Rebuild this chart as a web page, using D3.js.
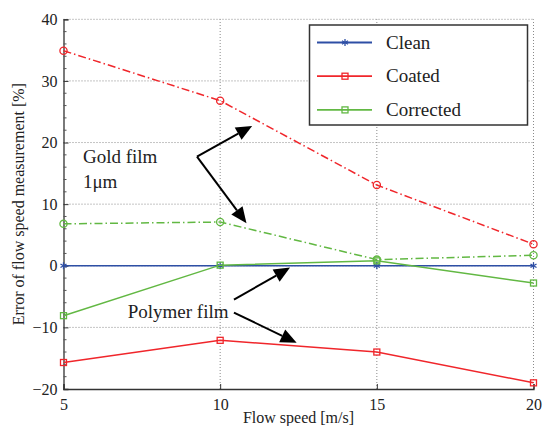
<!DOCTYPE html>
<html>
<head>
<meta charset="utf-8">
<script src="https://cdn.jsdelivr.net/npm/d3@7"></script>
<style>
  html, body { margin: 0; padding: 0; background: #fff; }
  svg text { font-family: "Liberation Serif", "Times New Roman", serif; fill: #222; }
</style>
</head>
<body>
<svg id="chart" width="543" height="426"></svg>
<script>
// Flow speed (m/s)
const speeds = [5, 10, 15, 20];
// Measurement error (%) per sensor condition
const clean = [0, 0, 0, 0];
const coatedPolymer = [-15.7, -12.1, -14.0, -19.0];
const correctedPolymer = [-8.1, 0.1, 0.8, -2.8];
const coatedGold = [34.9, 26.8, 13.1, 3.5];
const correctedGold = [6.8, 7.1, 1.0, 1.7];

const xTicks = [5, 10, 15, 20];
const yTicks = [-20, -10, 0, 10, 20, 30, 40];
const legendLabels = ["Clean", "Coated", "Corrected"];

const BLUE = "#2E4FA5", RED = "#F0262B", GREEN = "#62B843";
const SERIF = '"Liberation Serif", "Times New Roman", serif';

const svg = d3.select("#chart");
const x = d3.scaleLinear().domain([5, 20]).range([63.5, 533.5]);
const y = d3.scaleLinear().domain([-20, 40]).range([389, 19.3]);

// grid (dotted)
const grid = svg.append("g");
grid.selectAll(".gx").data(xTicks.slice(1)).join("line")
  .attr("x1", d => x(d)).attr("x2", d => x(d))
  .attr("y1", y(-20)).attr("y2", y(40))
  .attr("stroke", "#8a8a8a").attr("stroke-width", 1).attr("stroke-dasharray", "1,2");
grid.selectAll(".gy").data(yTicks.slice(1)).join("line")
  .attr("x1", x(5)).attr("x2", x(20))
  .attr("y1", d => y(d)).attr("y2", d => y(d))
  .attr("stroke", "#8a8a8a").attr("stroke-width", 1).attr("stroke-dasharray", "1,2");

// axes
const xAxis = d3.axisBottom(x).tickValues(xTicks).tickSize(-5).tickPadding(10).tickFormat(d3.format("d"));
const yAxis = d3.axisLeft(y).tickValues(yTicks).tickSize(-5).tickPadding(6).tickFormat(d => d < 0 ? "\u2212" + Math.abs(d) : d);

const gx = svg.append("g").attr("transform", `translate(0,${y(-20)})`).call(xAxis);
const gy = svg.append("g").attr("transform", `translate(${x(5)},0)`).call(yAxis);
[gx, gy].forEach(g => {
  g.attr("font-family", null).attr("font-size", null);
  g.select(".domain").attr("stroke", "#333").attr("stroke-width", 1.3);
  g.selectAll(".tick line").attr("stroke", "#333").attr("stroke-width", 1);
  g.selectAll(".tick text").style("font-size", "16px").style("fill", "#222")
    .style("font-family", SERIF);
});
gx.selectAll(".tick text").attr("dy", "0.71em");

// minor ticks on y axis
const minor = d3.range(-20, 40.01, 2).filter(v => v % 10 !== 0);
svg.append("g").selectAll("line").data(minor).join("line")
  .attr("x1", x(5)).attr("x2", x(5) + 3)
  .attr("y1", d => y(d)).attr("y2", d => y(d))
  .attr("stroke", "#555").attr("stroke-width", 1);

// axis labels
svg.append("text").attr("x", (x(5) + x(20)) / 2).attr("y", 423)
  .attr("text-anchor", "middle").attr("font-size", 16).text("Flow speed [m/s]");
svg.append("text").attr("transform", `translate(24,${(y(-20) + y(40)) / 2}) rotate(-90)`)
  .attr("text-anchor", "middle").attr("font-size", 16).text("Error of flow speed measurement [%]");

const line = d3.line().x((d, i) => x(speeds[i])).y(d => y(d));
const DASHDOT = "8,3,1.5,3";

function series(vals, color, dash, marker) {
  const g = svg.append("g");
  g.append("path").attr("d", line(vals)).attr("fill", "none")
    .attr("stroke", color).attr("stroke-width", 1.5)
    .attr("stroke-dasharray", dash || null);
  drawMarkers(g, vals.map((v, i) => [x(speeds[i]), y(v)]), color, marker);
}

function drawMarkers(g, pts, color, marker) {
  pts.forEach(([px, py]) => {
    if (marker === "circle") {
      g.append("circle").attr("cx", px).attr("cy", py).attr("r", 3.6)
        .attr("fill", "none").attr("stroke", color).attr("stroke-width", 1.3);
    } else if (marker === "square") {
      g.append("rect").attr("x", px - 3).attr("y", py - 3).attr("width", 6).attr("height", 6)
        .attr("fill", "none").attr("stroke", color).attr("stroke-width", 1.3);
    } else {
      const r = 3.5;
      [0, 60, 120].forEach(a => {
        const rad = a * Math.PI / 180;
        g.append("line")
          .attr("x1", px - r * Math.sin(rad)).attr("y1", py - r * Math.cos(rad))
          .attr("x2", px + r * Math.sin(rad)).attr("y2", py + r * Math.cos(rad))
          .attr("stroke", color).attr("stroke-width", 1.3);
      });
    }
  });
}

series(coatedGold, RED, DASHDOT, "circle");
series(correctedGold, GREEN, DASHDOT, "circle");
series(clean, BLUE, null, "star");
series(correctedPolymer, GREEN, null, "square");
series(coatedPolymer, RED, null, "square");

// annotation arrows (data coordinates)
function arrow(from, to) {
  const x0 = x(from[0]), y0 = y(from[1]), x1 = x(to[0]), y1 = y(to[1]);
  const ang = Math.atan2(y1 - y0, x1 - x0);
  const L = 16, W = 7;
  const bx = x1 - L * Math.cos(ang), by = y1 - L * Math.sin(ang);
  svg.append("line").attr("x1", x0).attr("y1", y0).attr("x2", bx).attr("y2", by)
    .attr("stroke", "#000").attr("stroke-width", 2);
  const px = -Math.sin(ang) * W, py = Math.cos(ang) * W;
  svg.append("path")
    .attr("d", `M${x1},${y1}L${bx + px},${by + py}L${bx - px},${by - py}Z`)
    .attr("fill", "#000");
}
const goldFrom = [9.26, 17.7];
arrow(goldFrom, [11.02, 22.7]);
arrow(goldFrom, [10.84, 6.9]);
arrow([10.44, -5.5], [12.23, -0.3]);
arrow([10.44, -7.6], [12.44, -12.5]);

svg.append("text").attr("x", x(5.62)).attr("y", y(16.7)).attr("font-size", 19).text("Gold film");
svg.append("text").attr("x", x(5.62)).attr("y", y(12.65)).attr("font-size", 19).text("1\u03bcm");
svg.append("text").attr("x", x(7.05)).attr("y", y(-8.55)).attr("font-size", 19).text("Polymer film");

// legend
const leg = svg.append("g");
leg.append("rect").attr("x", 309.5).attr("y", 25).attr("width", 218).attr("height", 100)
  .attr("fill", "#fff").attr("stroke", "#333").attr("stroke-width", 1.5);
const legColors = [BLUE, RED, GREEN];
const legMarkers = ["star", "square", "square"];
legendLabels.forEach((lab, i) => {
  const ly = 42.5 + i * 33.7;
  leg.append("line").attr("x1", 317).attr("x2", 372).attr("y1", ly).attr("y2", ly)
    .attr("stroke", legColors[i]).attr("stroke-width", 1.8);
  drawMarkers(leg, [[345, ly]], legColors[i], legMarkers[i]);
  leg.append("text").attr("x", 386).attr("y", ly + 6).attr("font-size", 19).text(lab);
});
</script>
</body>
</html>
